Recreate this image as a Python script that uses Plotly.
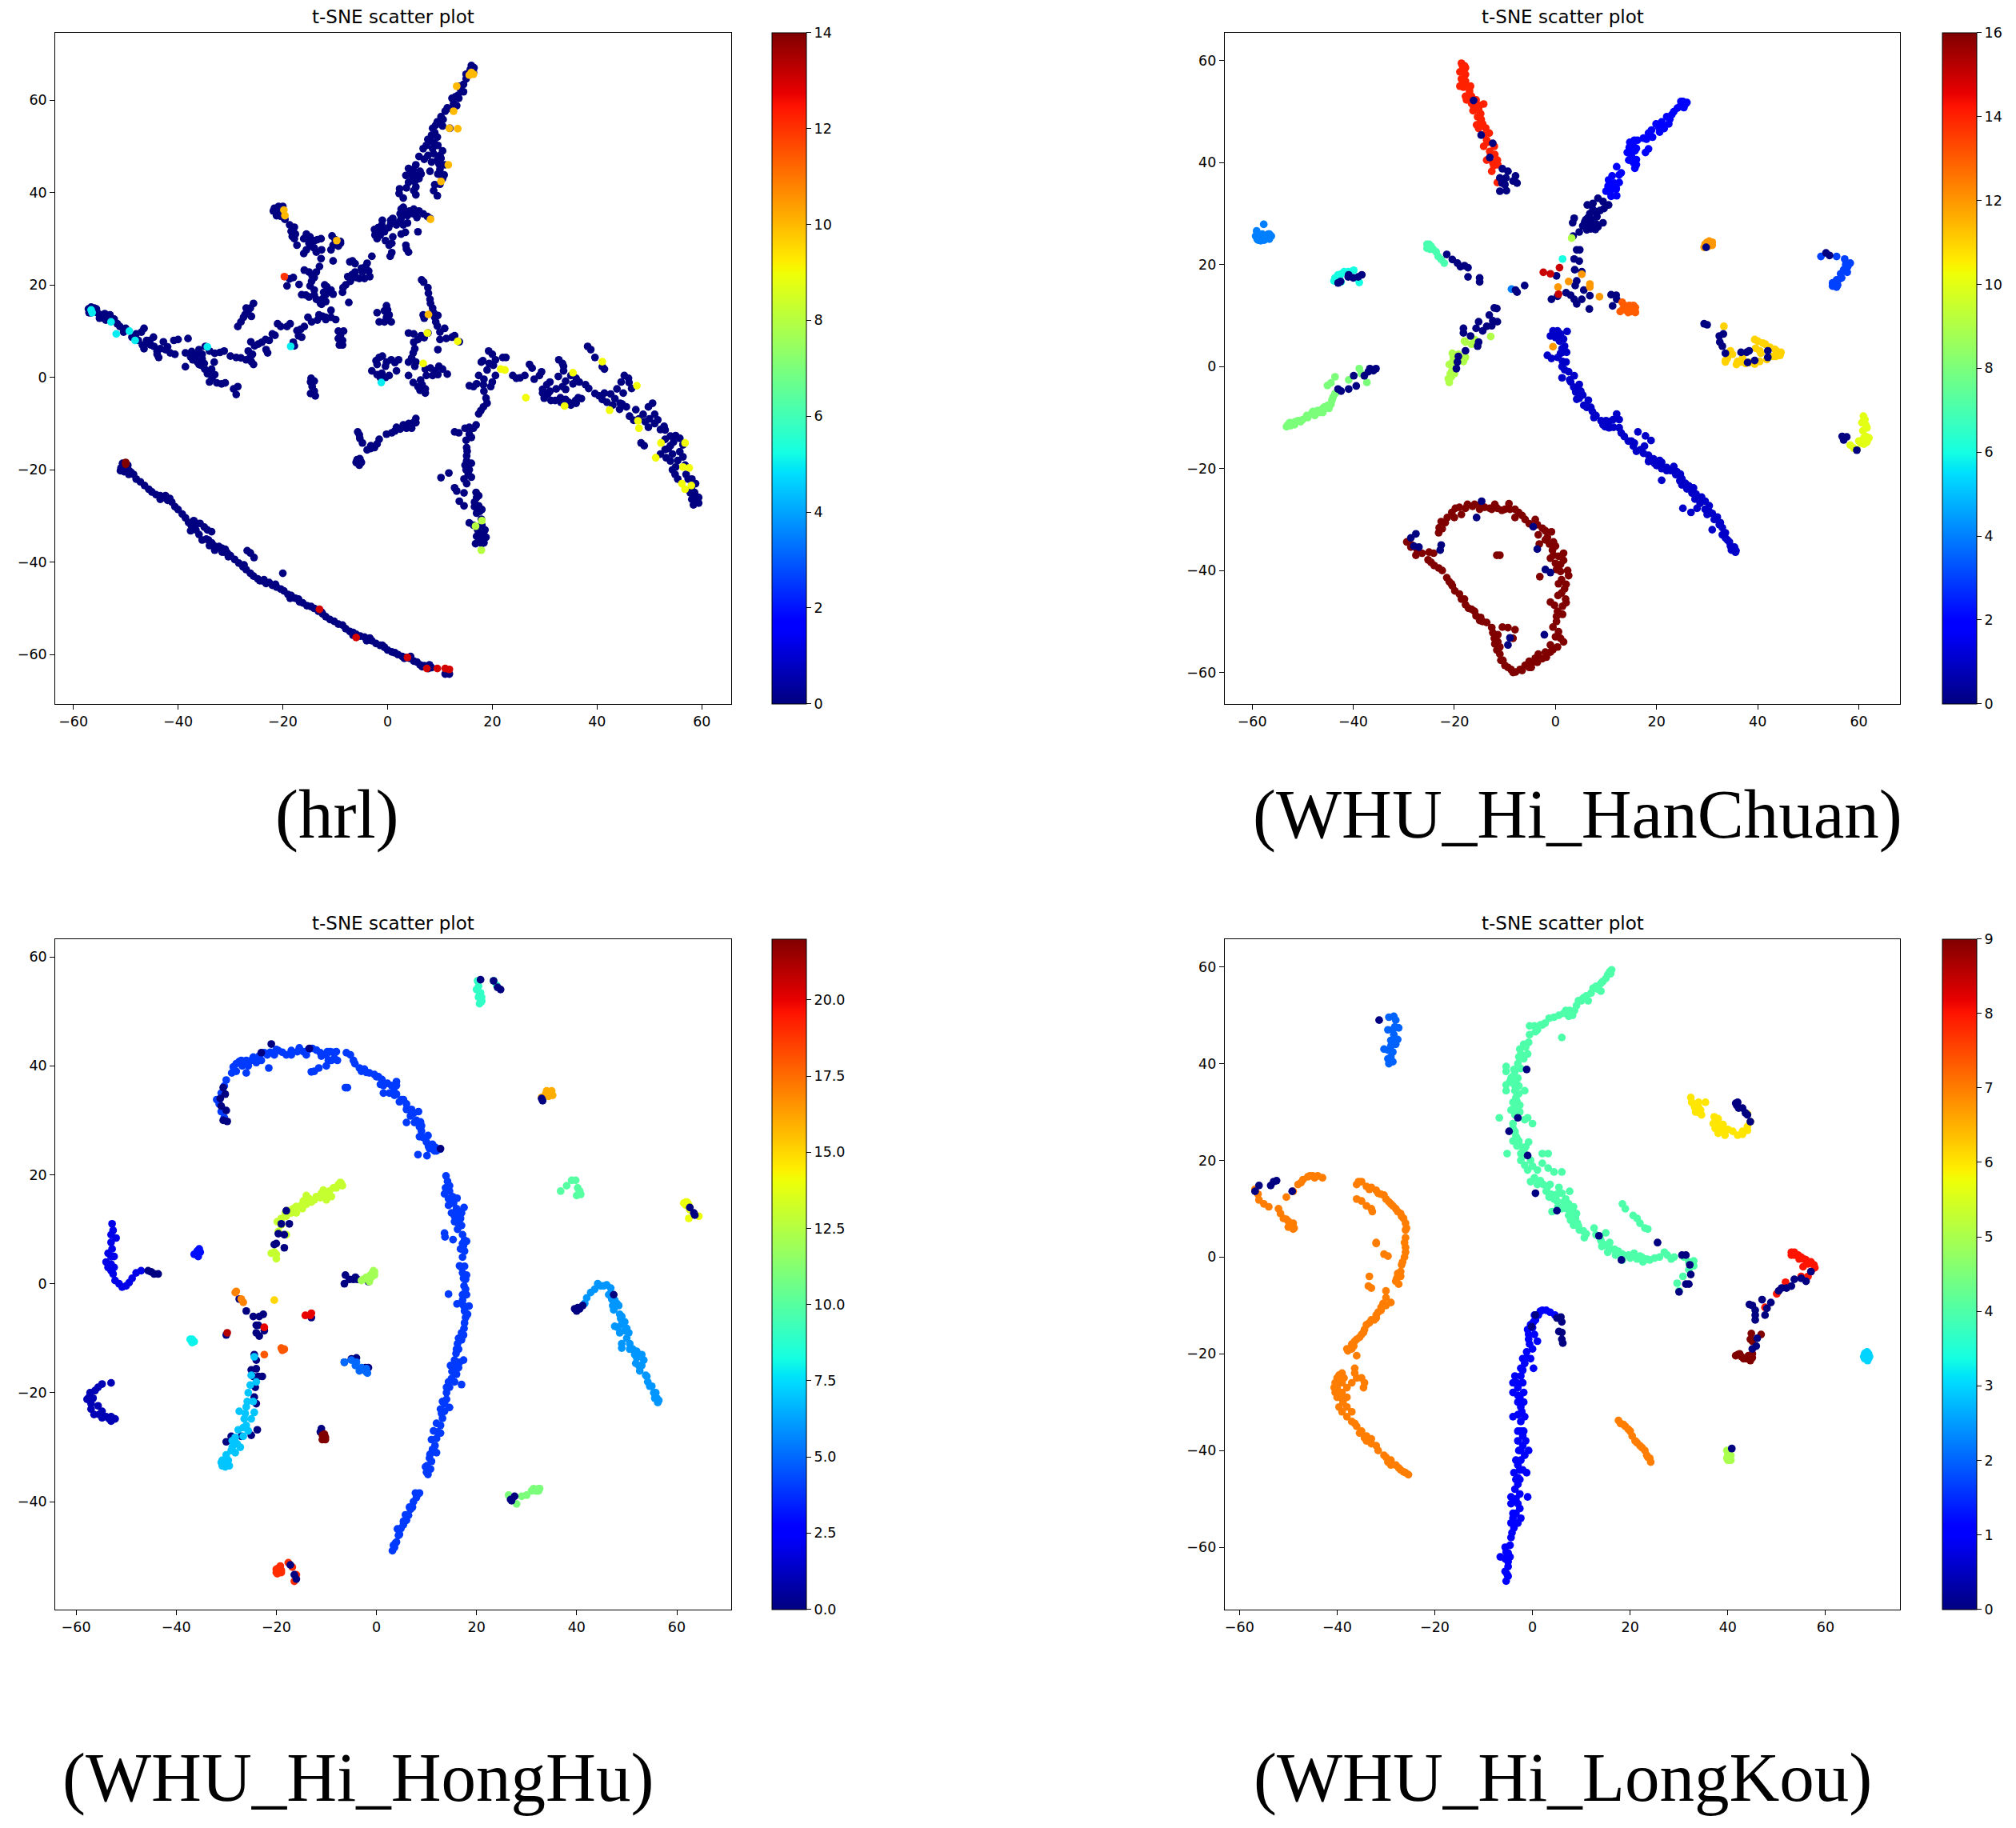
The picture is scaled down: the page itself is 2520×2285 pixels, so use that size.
import plotly.graph_objects as go

W, H = 2520, 2285

# ---------- hrl ----------
hrl_streak = [(-50.5,-19.5),(-50,-19),(-49.5,-20),(-49,-20.5),(-48.5,-21),(-48,-22),(-47.2,-22.6),(-46.4,-23.4),(-45.6,-24.2),(-45,-24.8),(-44.2,-25.4),(-43.4,-25.6),(-42.8,-26),(-42,-26.6),(-41.2,-27),(-41.6,-26.2),(-40.6,-28),(-40,-28.6),(-39.2,-29.6),(-38.6,-30.4),(-38,-31.4),(-37.5,-32),(-37,-31),(-36.6,-33),(-36,-34),(-37.6,-33.2),(-35.8,-31.6),(-35,-32.4),(-34.4,-33),(-33.6,-33.4),(-35.4,-35.2),(-34.6,-35),(-34,-36.4),(-33.6,-35.8),(-33,-37.4),(-32.2,-36.6),(-31.6,-37),(-31.2,-37.8),(-30.6,-38),(-30,-38.6),(-29.2,-39.4),(-28.4,-40.2),(-27.6,-41),(-27,-41.6),(-26.2,-42.4),(-25.6,-43),(-26.8,-37.5),(-26.2,-38),(-25.5,-39),(-24.8,-43.6),(-24,-44),(-23.2,-44.6),(-22.6,-44.4),(-22,-45),(-21.2,-45.4),(-20.4,-45.8),(-20,-42.4),(-19.8,-46.2),(-19,-47),(-18.4,-47.2),(-17.6,-47.8),(-17,-48),(-16.2,-48.8),(-15.4,-49.4),(-14.6,-49.6),(-14,-50),(-13.2,-50.6),(-12.4,-51.2),(-11.8,-51.8),(-11,-52.4),(-10.2,-52.8),(-9.4,-53.4),(-8.6,-53.6),(-8,-54.4),(-7.2,-55),(-6.6,-55.2),(-6,-55.6),(-5.2,-56),(-4.4,-56.2),(-3.8,-56.8),(-3,-57),(-2.2,-57.6),(-1.4,-58),(-0.6,-58.4),(0,-59),(0.8,-59.4),(1.4,-59.6),(2,-60),(2.8,-60.4),(3.4,-60.6),(4.2,-60.8),(5,-61.4),(5.6,-61.6),(6.2,-62.2),(7,-62.4),(7.6,-62.6),(8.4,-62.8),(11.2,-63.5),(11.5,-64),
              (-50.9,-19.6),(-51,-20.2),(-50.3,-20.4),(-49.6,-19),(-50.6,-18.6),(-49.4,-21),(-43.4,-26.4),(-42.4,-25.6),(-37,-32.8),(-36.4,-31.6),(-34.2,-35.2),(-33.2,-36.4),(-31.6,-37.8),(-31,-37.2),(-30.4,-38.8),(-27.4,-40.6),(-24.4,-44),(-23.6,-43.8),(-21.4,-44.8),(-18.6,-47.8),(-16.8,-48.6),(-12.6,-50.8),(-6.6,-55.8),(-4,-57),(-3.4,-56.4),(-1,-58),(3.2,-60.8),(4.4,-60.4),(6.6,-62.6),(7.8,-63),(8,-62.2),(11.8,-64.2),(11,-64.2)]
hrl_arm_up = [(16,67.5),(16.5,67),(15.8,66.6),(16.4,66),(15.4,65.6),(15,64.6),(14.5,63.4),(14,62),(13.7,63),(14.5,61.8),(13.4,61),(12.9,60.7),(12.3,60.4),(13.6,60.4),(13.2,58.8),(12.6,59.2),(11.4,58.3),(12,58.2),(11,57.6),(10.2,56.4),(9.5,55.3),(10.6,55.8),(8.6,53.9),(9.2,54.6),(10.5,54.4),(11.9,53.9),(9,53),(7.7,51.5),(8.4,52.4),(9.5,52),(6.8,49.5),(7.4,50.2),(8.6,49.5),(9.6,50.2),(10.5,49),(7.7,48),(8.8,48.4),(9.5,47),(10.2,47.4),(10.9,46),(9.8,46.2),(4.9,45),(5.4,46),(3.5,43.7),(4.4,44),(5.4,43.7),(6.2,44.6),(8.1,44.6),(4,42.2),(4.8,43),(5.4,41.2),(5.2,42.4),(10.5,43),(10.8,43.8),(9,41.7),(10,41.8),(2.3,40.8),(2.2,39.8),(5.4,39.5),(9.5,39.3),(8.8,40.4),(3,38.8),(2.6,36.4),(2.4,35.4),(3.5,35.4),(3,36.8),(4.2,36),(4.9,35.4),(5.6,34.6),(6.8,35.4),(7.6,34.8),(8.1,34.4),(2.6,34.4),(1.7,33),(3,33),(2.2,33.6),(3.8,33.4),(0.6,33.2),(-1.1,33),(-1.8,32.4),(-2.5,32),(-0.6,31.5),(0.2,32.4),(-1.4,30.8),(-2,30),(-2.4,30.8),(0.3,28.6),(0.8,29),(2.6,31),(5.8,31.5),(3.5,28.6),(3.6,27.8),(4,27.1),(0.5,26.2),(0.8,27),
              (9,50.6),(8.4,51),(7,47.2),(6,47.8),(10,48),(8.4,46.6),(6,43),(4,45.2),(3.6,41),(5,40.4),(6.4,44),(9.6,44),(10,45),(1,34.4),(3.8,35),(5,36.4),(6,36),(3.4,31.4),(1,30.4),(-0.4,29.6),(0.6,34),(-0.8,32),(-1,34),(-1.6,31),(15.6,66),(16.2,66.8),(15,65.6)]
hrl_mid_up = [(-21.4,35.8),(-21,36.4),(-20.4,36.2),(-21.2,35),(-20.5,34.9),(-20,35.4),(-19.8,34.6),(-18.7,33),(-17.8,32.5),(-18.4,31.6),(-18.2,30.5),(-17.6,31),(-17.3,28.6),(-17.8,30),(-15.5,31),(-15.4,30),(-16,30),(-14,29.6),(-14.8,30.4),(-12.7,30),(-13.4,29.8),(-10.4,28.6),(-10,29.8),(-9,29.4),(-9.4,28.4),(-10.8,27.6),(-15.5,27.6),(-14.6,28.4),(-13.6,27.1),(-14,28),(-12.7,25.7),(-12.6,27.6),(-10.4,25.2),(-6.7,25.2),(-7.2,25),(-6.2,24.6),(-3,26.2),(-3.9,24.7),(-4.2,24),(-4.8,22.8),(-3.6,23),(-3.4,21.8),(-4.4,21.4),(-6.2,22.8),(-6.8,22.2),(-7.6,21.8),(-8.5,19.4),(-8,20),(-7.1,20.8),(-18.7,21.3),(-18,21.6),(-15.9,23.2),(-15,22.8),(-13.6,22.8),(-14.4,22),(-14.5,20.8),(-14.8,19.8),(-14,18.9),(-14,17.8),(-16.4,17.9),(-15.6,17.8),(-15,17.4),(-11.8,17.9),(-12.4,17),(-10.8,18.9),(-11.4,18.4),(-11.8,16.4),(-13.6,16.9),(-12.8,16),(-7.4,16.2),(-19.2,19.8),(-16.9,20.1),
              (-21.8,36),(-21,35.6),(-20.8,37),(-20,37),(-21.6,36.6),(-20.4,35.4),(-19.6,34.2),(-9,29),(-10.6,30.6),(-15,29),(-16,26.8),(-13,24),(-14,21.6),(-12,20),(-11.6,19.6),(-10.4,18),(-12.2,18.4),(-12.6,15.8),(-8.6,18.4),(-6,21.6),(-5,23.6),(-5.4,21.4)]
hrl_mid_low = [(-10.8,14.5),(-11.8,13),(-13.1,13.5),(-12.4,13.2),(-11.8,12.5),(-9.9,12.5),(-10.8,13),(-14.5,12),(-13.4,12.4),(-15.9,11),(-15.2,13),(-16.6,10.4),(-17.3,10.1),(-16.4,8.7),(-17,9),(-18,7.6),(-17.8,6.8),(-21,11.6),(-20.4,11),(-19.2,11),(-18.6,11.6),(-21.5,9.1),(-22,9.4),(-23.3,8.2),(-22.6,8),(-24,7.6),(-24.7,7.2),(-22.9,5.3),(-23.2,6),(-26.1,7.7),(-25.4,6.8),(-26.6,5.7),(-25.8,5),(-27,3.8),(-26.2,4.4),(-28.9,4.3),(-28,4.2),(-25.6,2.8),(-26,3.4),(-9,9.1),(-9.4,8.4),(-8.6,8),(-9,7.7),(-9.2,7),(-8.6,7),(-9.4,10),(-8.4,10),(-25.6,16),(-26.2,15),(-26.6,14.5),(-27.2,13.6),(-26,13.2),(-27.5,13),(-28,12),(-28.6,11),(-27,15)]
hrl_left = [(-57.1,14.8),(-56.6,15.2),(-56,15),(-56.6,14),(-55.4,14),(-54.8,13.5),(-54,13.8),(-53,13.5),(-53.8,12.4),(-52.2,12.6),(-51.1,11),(-51.6,11.6),(-50,10.6),(-46.5,10.6),(-47,9.8),(-48.8,8.7),(-48,9.4),(-47.6,8),(-44.7,8.7),(-45.4,8),(-46.5,6.2),(-45.2,7),(-44.6,6.7),(-44,5.6),(-43.7,4.3),(-44,5),(-42.8,7.7),(-42.4,6),(-40,8.2),(-40.8,8),(-38.1,8.4),(-41.5,5.3),(-40.6,5),(-38.6,5.3),(-37.4,5.6),(-34.8,6.7),(-36,6),(-36.4,5),(-35.4,5),(-34,5.7),(-33,5.2),(-31.2,5.7),(-32,5.4),(-38.6,2.3),(-36.3,3.3),(-37.2,3.8),(-35.6,2.6),(-34.9,1.8),(-35.4,4),(-34.4,0.8),(-33.5,-0.1),(-34,-1),(-33,0.6),(-33.1,3.3),(-32.6,-1.2),(-31.7,-1.4),(-31,-1.2),(-29.4,-2.5),(-28.6,-2),(-28.9,-3.7),
            (-55.6,14.8),(-57,14),(-55,12.8),(-54.2,12.8),(-50.4,9.8),(-46,8),(-45.8,7.4),(-46.8,7),(-43.4,6.2),(-42,6.6),(-37.6,4.4),(-36.8,4),(-36,2.8),(-35,3),(-34.2,1),(-33.6,1.8),(-33.2,0.6),(-30,4.6)]
hrl_iso = [(-14.7,-1),(-14,-0.8),(-14.4,-2),(-14,-3),(-14.7,-3.5),(-13.8,-4),(-14.6,-0.2)]
hrl_centre = [(-0.2,15.5),(0,14.6),(-2,14),(-0.6,14.4),(0.3,13.5),(-0.2,13),(-1.6,12),(-0.6,12),(0.7,12),(-1.6,4.3),(-2.2,3.6),(-0.2,3.3),(-1,4.6),(-2,2.8),(0.7,3.8),(-0.4,2.4),(2.1,3.8),(1.4,3.2),(-3,1.4),(-1.1,0.9),(0.3,0.4),(-0.4,0),(-1.4,0),(1.7,1.4),(-2,0.6)]
hrl_vert = [(6.5,21.1),(6.9,20.6),(7.7,19.4),(7.8,18.2),(8.1,16.9),(8.2,16),(8.6,15),(8.8,14),(9,13),(9.2,12),(9.5,11.1),(8.4,13.8),(9.6,13.4),(6.8,13.5),(7,12.8),(4,9.6),(5,9.4),(5.8,8.2),(6.4,9),(5,7.6),(7.7,9.6),(7,8.6),(10.9,10.6),(10,9.8),(12.3,8.7),(11.2,8.4),(10,8.2),(12.8,9),(13.7,7.7),(9.6,6),(4.9,5.3),(5.2,6.2),(4,3.3),(4.6,4.2),(5.4,3.3),(5.2,2.4),(7.2,1.8),(8.2,2),(9.1,1.4),(9.8,2.4),(10.5,1.8),(8.6,0.4),(7.4,0.4),(11.4,0.7),(9.6,0.6),(4.9,-1.1),(6.3,-0.6),(7.2,-2.5),(5.8,-2),(6.6,-1.6),(4,0.4),(6.2,-2.8),(7.2,-3.4)]
hrl_lowmid = [(-5.7,-11.8),(-5.4,-12.4),(-5.3,-13.2),(-4.8,-14.2),(-2.5,-15.2),(-3.2,-15.4),(-3.9,-15.7),(-3.2,-14.8),(-0.2,-12.3),(-1.6,-13.4),(-2,-14.4),(0.8,-12),(1.7,-10.8),(1.4,-11.6),(2.4,-11.2),(3,-10.3),(3.6,-11),(4,-10),(4.9,-9.8),(4.6,-11),(5.4,-8.9),(5.4,-9.8),(-5.7,-18.6),(-5.3,-17.6),(-5,-18.4),(-5.8,-17.8),(-6,-18.4),(-5.4,-19)]
hrl_right = [(19.3,5.7),(20,5),(20.6,3.8),(22,4.3),(22.6,4.3),(18.2,3.6),(17.9,3.3),(19.4,3),(20.2,2.6),(19,1.6),(17.4,0.4),(18.4,-0.4),(18.3,-1.6),(15.6,-1.8),(16.4,-2),(17,-1.4),(19.7,-2),(20.6,0.4),(20,-1),(18.8,-4.5),(18.4,-3),(19,-5.6),(18.3,-6.4),(17.4,-7.9),(17.8,-7.2),(23.9,0.4),(24.6,-0.2),(25.3,-0.1),(26.2,0.4),(27.1,2.8),(27.6,2),(28,-0.4),(29,0.4),(29.4,1.2),(30.4,-1.6),(29.6,-2.6),(29.9,-4.5),(30.6,-3.6),(31.2,-5),(32.7,3.8),(33.4,3),(33.6,1.4),(32.6,0.2),(34,-0.8),(35,0.4),(35.4,-1.4),(32.2,-2.5),(33.4,-2),(31,-1),(33.1,-5.4),(34,-4.8),(35.9,-5),(36.4,-4.4),(35,-6),(38.2,6.7),(38.8,6),(39.6,4.3),(41,2.3),(41.4,1.8),(37.8,-1.6),(38.4,-2.4),(39.6,-3.5),(40.4,-4),(41.9,-5.4),(41,-4.8),(43,-6),(44.3,-6.9),(45.2,0.4),(46,-0.2),(43.8,-2.5),(44.6,-1),(46.1,-1.1),(46.6,-2.4),(45.6,-6.4),(44.8,-5.8),(47,-9.3),(46.2,-8.4),(48,-9),(48.4,-14.2),(49,-14.8),(49.8,-6.4),(50.6,-5.6),(49.8,-10.8),(49.2,-9.6),(51,-10),(52.1,-11.3),(52.8,-10.6),(54,-12.7),(53,-13.4),(55.8,-13.2),(55,-12.6),(52.1,-16.6),(53,-15.6),(54,-14.8),(54,-18.1),(53.2,-17.4),(54.9,-21),(55,-19.4),(56.8,-19),(55.8,-16.1),(56.4,-17.2),(58.1,-22),(57,-21),(58.6,-24.9),(58,-24),(59.1,-26.8),(58.1,-26.4),(58.6,-27),(59,-25.8),
             (29.6,-3.4),(31,-3),(34,-2.6),(36,-0.2),(36.6,-1),(33,-4.4),(34.6,-5.4),(32,-5),(33.6,2.4),(37,-4.6),(36,-5.6),(41.4,-3.4),(42.6,-3.6),(43.4,-4.6),(44.4,-5.6),(45,-3.4),(47.4,-7),(48.8,-8),(50,-9),(51,-8),(51.6,-9.2),(53,-11.4),(54.6,-14),(53.6,-15.4),(54.4,-16.6),(55.4,-18),(56.4,-14.6),(54.4,-20),(55.4,-22),(57.4,-22),(58.8,-23),(57.8,-25),(59.4,-26),(58.4,-27.6),(59.4,-27.2)]
hrl_south = [(16.9,-10.3),(16.4,-11),(15.6,-10.8),(15.6,-12.3),(16,-13),(12.8,-11.8),(13.6,-12),(15.1,-15.2),(15,-13.6),(15.1,-17),(15.1,-18.1),(14.8,-19),(15.6,-20),(15,-20),(16,-18.6),(15.1,-23),(14.6,-22),(12.8,-23.9),(13.2,-24.6),(13.7,-26.8),(14.6,-25),(16.9,-24.9),(17,-26),(17.4,-27.8),(16.6,-27),(17.9,-30.7),(17.6,-29),(15.6,-31.5),(16.4,-32),(18.3,-33.7),(17.2,-33),(17.4,-35.6),(18.8,-34.6),(18,-36),(17,-34.4),(10.2,-21.7),(11.7,-20.7),(14.6,-27.8),
             (14.8,-11),(15.2,-16),(15.4,-21),(16,-21.6),(17.4,-25.6),(16.6,-28),(17,-29.4),(18,-28.6),(18,-32),(18.6,-33),(17.4,-34.4),(16.8,-36),(17.8,-35),(18.4,-35.8)]
hrl_c9 = [(21.6,1.8),(22.4,1.6),(6.8,3),(7.6,9.6),(13.4,7.8),(26.4,-4.4),(33.8,-6.2),(47.6,-1.8),(42.4,-7.1),(47.8,-9.4),(48,-11),(52.2,-14.2),(56.8,-14.2),(51.2,-17.4),(56.4,-19.4),(57.6,-19.6),(56.2,-23),(56.8,-24.2),(58,-23.4),(35.4,1),(41,3.4)]
hrl_c8 = [(17.9,-37.4),(16.8,-32.2),(18,-31)]
hrl_c5 = [(-56.6,14.6),(-56.4,14),(-52.8,12),(-49.3,10),(-48.2,8),(-51.8,9.4),(-18.5,6.7),(-1.2,-1.1),(-34.4,6.6)]
hrl_c10 = [(16,66),(15.6,65.4),(16.4,65.6),(13.2,63),(12.6,57.6),(11.8,53.9),(13.4,53.8),(11.6,46),(10.2,42.4),(8.2,34.2),(-9.7,29.6),(-19.6,35),(-19.8,36.2),(7.8,13.6)]
hrl_c12 = [(-19.7,21.8)]
hrl_c13 = [(-13,-50.2),(-6,-56.3),(3.8,-60.6),(7.5,-63),(9.5,-63),(11.8,-63.2),(11,-63)]
hrl_c14 = [(-50,-18.8),(-50,-18.4)]
hrl_groups = [(0,hrl_streak),(0,hrl_arm_up),(0,hrl_mid_up),(0,hrl_mid_low),(0,hrl_left),(0,hrl_iso),(0,hrl_centre),(0,hrl_vert),(0,hrl_lowmid),(0,hrl_right),(0,hrl_south),
              (9,hrl_c9),(8,hrl_c8),(5,hrl_c5),(10,hrl_c10),(12,hrl_c12),(13,hrl_c13),(14,hrl_c14)]

# ---------- WHU_Hi_HanChuan ----------
han_c14 = [(-18.6,59.5),(-18.2,58.4),(-18.9,57.8),(-17.8,57.3),(-18.6,56.4),(-17.8,56),(-18.9,55),(-18.2,54.8),(-16.8,55),(-17.6,52.3),(-17.8,53),(-16.6,53),(-15.7,52.3),(-16.2,51),(-14.2,51.5),(-15,51.2),(-16.3,50.2),(-14.8,49.6),(-15.4,49),(-14.7,48.5),(-15.2,46.7),(-14.4,47.6),(-13.8,46.8),(-13.1,45.8),(-14.2,45.4),(-14.2,43.2),(-13.4,44),(-12.1,43.2),(-13.6,40.5),(-12.8,41.6),(-11.5,40.5),(-12.6,38.3),(-12.2,39.4),(-11.5,36.1),
           (-18.4,59),(-18,59),(-17.8,58.6),(-18,55.6),(-17,54),(-16.6,51.6),(-15.2,50.4),(-14.8,48),(-15.6,47.4),(-13.6,44.4),(-13,42.2),(-12.4,40),(-12,41.6),(-11.4,39.6)]
han_c0a = [(-16.2,52.2),(-14.7,45.4),(-12.4,43.8),(-13,41),(-10.5,38.8),(-9.4,38.3),(-11,37),(-9.8,37),(-7.9,37.4),(-7.6,36),(-10,35.7),(-8.4,36.4),(-11,34.4),(-9.7,34.5),(-10.6,36)]
han_c2 = [(25.7,51.5),(25.2,52),(24.6,51),(24.1,50.7),(23.4,50),(22.6,48.5),(22,49),(21,48),(19.9,47.6),(21.5,46.7),(20.6,46),(18.4,45.8),(19,46.4),(17.4,44.8),(14.7,44),(15.6,44.4),(14.6,43),(15.7,42.3),(15,41.4),(18.4,42.7),(16,40.6),(14.5,40.5),(15.7,38.9),(12.1,39.2),(12.6,37.6),(10.5,36.6),(11.2,37.4),(12.6,36.1),(11.4,35.4),(10,34.4),(10.8,34.2),(12.1,33.5),(12,34.8),
          (25,51),(25.4,50.8),(26,51.8),(24.8,52),(23,49.4),(22.4,47.6),(21.2,47.2),(20.4,47),(19.2,45),(18,44.6),(16.2,44.4),(15.4,43.2),(14.8,42),(16,42.8),(14.2,42),(17.8,42),(15.4,40),(16,39.6),(13,38),(11.6,36),(12,35),(10.4,35.4),(11,33.4)]
han_c0b = [(8.4,33),(9.4,32.4),(6.3,31.7),(7.4,32),(10.5,31.7),(9.6,31),(7.9,30.4),(6.8,30),(8.2,29.4),(3.7,29.1),(3.4,28.2),(6.8,27.8),(6,28.8),(7,29),(9.4,28.2),(7.9,26.9),(7,27),(4.7,26.4),(3.5,25.6),(5.8,28.4),(5.4,27.6),(8.4,27.4),(4.8,22.9),(4.2,22.9),(3.7,21.1),(4.7,20.7),(3.8,19),(5.2,18.6),(3.9,15.9),(4.2,16.8),(5.6,15),(0.2,17.8),(-0.8,13.2),(2.1,14.5),(3.7,13.2),(5.2,13.2),(6.8,13.9),(4.2,12.3),(3,14),(6.7,11.3),(11,14.1),(12.1,13.2),(11.3,11.9),(12,14),(0.4,13.8),(7.2,28.2),(6.4,29.2),(8,28),(6.2,26.8),(7.4,30.8),(8.8,30.6)]
han_c12b = [(5.2,18.1),(6.8,15.6),(6.8,16.2),(2.6,16.7),(0.5,15.6),(8.7,13.7),(-0.5,3.9)]
han_c13 = [(13.9,11.9),(14.6,12),(15.2,11.5),(15.7,11),(15,10.8),(14,11),(12.8,10.8),(13.2,12.6),(14.4,10.6),(15.8,11.6),(15.4,12),(14.6,11.2),(15.8,10.6),(13.4,11.4)]
han_c15 = [(-2.4,18.5),(-1,18.2),(0.8,19.4),(0.6,14.2)]
han_c5b = [(1.4,21.1)]
han_c9b = [(3.2,25.2)]
han_c7 = [(-25,23.3),(-25.4,24),(-24.8,23),(-24.2,23),(-23.6,22.5),(-23.2,21.6),(-22.6,21),(-22,20.3),(-25,24),(-24.6,23.6),(-25.4,23.2)]
han_c0c = [(-21.5,22),(-20.4,21),(-19.4,20.3),(-18.8,19.6),(-18,19.8),(-17.3,19.4),(-17.3,17.6),(-15,17.4),(-15,16.6)]
han_c4 = [(-59.1,26.6),(-57.7,27.9),(-59.3,25.6),(-59,25),(-58.3,24.7),(-57.6,24.8),(-57,25.2),(-56.6,25),(-56.2,25.6),(-56.6,26),(-58,26),(-8.7,15.2),(-59,26),(-58.4,25.2),(-57.6,25.6),(-56.8,26),(-58.8,24.8)]
han_c0d = [(-7.9,15),(-7.6,14.6),(-6.1,15.9)]
han_c5 = [(-43.6,17.4),(-43.4,16.8),(-43,18),(-42.5,18.1),(-42.4,16.6),(-41.8,18.6),(-41,18.6),(-39.9,18.9),(-38.8,16.5),(-39.4,17.4),(-43.8,16.8),(-43,17),(-42.6,17.8)]
han_c0e = [(-42.5,16.7),(-40.9,18),(-40,17.4),(-41,17.6),(-38.3,18),(-39,17.6),(-43,16.4)]
han_c8 = [(-53,-11.5),(-52.6,-11),(-52,-11),(-51.4,-10.8),(-50.9,-10.6),(-50,-10.4),(-49.2,-9.6),(-48.3,-9.3),(-47.6,-9.6),(-47,-8.6),(-45.7,-7.9),(-46,-9),(-44.8,-8.2),(-44.2,-6.6),(-43.6,-5.3),(-45.1,-3.7),(-44.4,-3.2),(-43.6,-2),(-40.9,-2.6),(-38.8,-0.4),(-37.3,-3.1),(-38.4,-1.4),
          (-53.2,-11.8),(-52.4,-11.6),(-51.6,-11.4),(-50.4,-10.8),(-49,-10),(-48,-8.8),(-46.6,-9),(-46,-8.2),(-45,-7.6),(-44.4,-7.4),(-44,-6)]
han_c0f = [(-43,-4.4),(-42.4,-4.8),(-40.9,-4.4),(-39.9,-1.8),(-39.4,-3.8),(-37.8,-1.8),(-36.7,-0.4),(-36,-0.8),(-35.5,-0.4),(-37,-1)]
han_c9 = [(-21,-3.1),(-21.2,-2.4),(-20.6,-2),(-20.5,-0.9),(-21,0.4),(-20.2,1.8),(-20.4,2.6),(-19.2,2.4),(-18.2,1),(-17.8,1.8),(-17.8,4.8),(-18,5),(-16,5.3),(-16.6,4.4),(-12.8,5.9),(-20.8,-1.4),(-20.4,0.8),(-20,-1.4)]
han_c0g = [(-19.4,0.9),(-19.6,-0.4),(-17.8,3.1),(-19.2,2),(-15.2,4.8),(-15.4,4),(-18.2,7.5),(-18.2,6.6),(-15.7,7.5),(-13.6,7.9),(-14.4,7),(-11.5,8.8),(-12.6,8),(-15.2,8.8),(-13.1,10.1),(-12.4,9),(-12.1,11.5),(-11.6,11.4),(-16.8,6)]
han_c3 = [(52.5,21.6),(55.6,21.6),(57.2,21.1),(57.4,20),(58.3,20.3),(57,19),(57.7,18.5),(56.6,17.4),(56.2,17.2),(55.6,16.6),(55.1,15.9),(54.8,16.4),(55.6,15.6),(55,16.4),(55.6,17),(55.8,16),(54.8,15.8),(57.8,19.6),(56.4,18.2)]
han_c0h = [(53.5,22.3),(54.2,21.8),(29.4,8.4),(30,8.2),(29.8,23.4),(32.5,4.8),(32.4,6),(33.2,6.4),(33.6,2.6),(36.7,2.8),(37.8,2.8),(38.3,3.1),(42,3.1),(42,1.8),(38,0.8),(39.4,1.2),(33,4),(56.7,-13.7),(57.6,-13.8),(57,-14.4),(59.6,-16.4)]
han_c12 = [(29.9,23.8),(30.7,24.4),(30.2,23.6),(31,23.8),(30.4,24.6),(29.4,23.4),(30.4,24),(30,24.4),(31,24.4),(29.6,24)]
han_c11 = [(33.3,7.9),(33.6,0.9),(33.6,1.2),(34.6,3.1),(36,1),(36.7,0.9),(35.8,0.4),(37.6,0.6),(39.4,0.5),(40.4,1),(41.8,1.4),(39.4,5.3),(40,5),(41,4.6),(41.5,4.4),(42.4,3.8),(43.4,3.4),(44.1,2.6),(44.4,2.2),(43,2),(39.6,3.6),(40.4,3.1),(40.6,2.6),(34,1.6),(35,2.4),(37,1.6),(38.4,0.8),(44.6,2.8),(43.8,3),(43.6,2)]
han_c10 = [(60.9,-9.7),(61.2,-10.4),(60.6,-11),(61.4,-11.5),(60.8,-12.6),(61.4,-13.7),(62,-14),(60.4,-15),(61,-15.2),(58.3,-15.4),(59,-16),(59.6,-16.3),(60,-14.6),(61,-10.6),(61.6,-12),(61,-14),(60.8,-14.4),(61.6,-14.8)]
han_c1 = [(-0.5,7),(0,5.7),(2.3,6.9),(-1,6),(0.8,5),(1.3,3.5),(1.4,2.8),(-1.6,2.2),(-0.8,1.6),(0.5,1.8),(2.1,0.9),(1.3,0),(1.8,-0.6),(1.3,-2.2),(3.7,-1.8),(2.8,-2.6),(4.7,-3.5),(3.6,-4),(4.7,-6.2),(4,-5),(5.4,-5.6),(6.5,-6.6),(6.2,-8),(7.3,-8.8),(8,-9.6),(10,-10.6),(9.4,-11.4),(10.6,-12),(12.1,-9.3),(12.6,-10.4),(11.5,-11.9),(13.6,-13.7),(14.4,-14.6),(16.3,-12.8),(17.8,-13.6),(18.9,-14.5),(16.8,-16.3),(17.6,-15.6),(15.6,-15),(19.4,-18.1),(18.4,-17.4),(20.6,-18.4),(22,-19.8),(21,-18.8),(21,-22.3),(23.4,-19.6),(24.7,-21.1),(24,-20.6),(25.7,-22.9),(25,-22),(27.3,-23.8),(26.4,-23.4),(28.9,-25.6),(27.8,-25),(29.6,-26.4),(25.2,-27.8),(26.8,-28.6),(28,-27.8),(30.4,-27.3),(30.6,-28.6),(32,-29.5),(31.4,-30),(31,-32),(32.4,-31),(33.6,-32.6),(33,-31.6),(34,-34),(34.6,-35.2),(35,-35.6),(35.7,-36.1),(35.2,-36),
          (1,6.4),(0.4,7),(1.6,5.4),(1.8,4),(1,2.6),(2.2,2.8),(1.4,1),(2.6,-1),(3,-3),(4.2,-4.6),(5,-4.8),(4.2,-6.4),(5.6,-7.6),(7,-8),(7.6,-10),(9,-10.6),(10.6,-10.8),(9.8,-11.8),(11.4,-10.4),(12.6,-12),(13,-13),(15,-14.6),(15.4,-15.6),(16,-16.6),(17.4,-17),(18.4,-18.6),(19.6,-19),(20,-19.4),(21,-20),(22,-20.4),(22.8,-20.4),(23.8,-21.2),(24.6,-22.4),(25,-23.2),(26,-24),(27,-24.8),(27.6,-26),(28.6,-26.8),(29.6,-28),(30,-29),(31,-28.8),(32.6,-30.6),(33,-33),(33.6,-33.6),(34.4,-34.4),(35.4,-35.4),(35.6,-36.4),(34.8,-36)]
han_c16 = [(-29.4,-34.4),(-28.4,-35),(-27.3,-36.1),(-27.6,-37),(-25.2,-37.9),(-24.6,-38.4),(-23.1,-39.5),(-22.4,-40),(-21.5,-41.4),(-21,-42.2),(-20.4,-43),(-19.9,-44),(-19,-44.6),(-18.6,-45.6),(-17.8,-46.7),(-17.2,-47.4),(-16.6,-47.6),(-15.7,-48.9),(-14.8,-49.2),(-13.6,-50.2),(-12.6,-51.2),(-12.1,-53.3),(-12,-54.4),(-11.6,-55.6),(-11,-56.4),(-10.8,-57.6),(-10,-58.6),(-8.8,-59.4),(-7.9,-59.9),(-6.6,-59.6),(-5.2,-59),(-4.6,-58),(-3.6,-58),(-2.6,-57.3),(-3.4,-56.4),(-2,-56),(-0.5,-55.5),(-1,-54.6),(1,-53.3),(0,-53),(-0.5,-51.1),(0.2,-50),(1,-48.5),(0.4,-48),(2.1,-46.3),(1.4,-47),(0.5,-44.9),(1.2,-44.4),(2.1,-42.7),(1.2,-41.8),(2.6,-41),(1,-40.2),(1,-38.8),(0,-38.6),(1.6,-36.6),(0.6,-37.2),(0,-35.2),(-0.6,-36),(-1.6,-33.5),(-0.8,-32.4),(-2.6,-31.7),(-2,-34),(-3.4,-33),(-5.2,-30.8),(-4.4,-31.4),(-6,-30),(-7.3,-28.6),(-8,-29.6),(-9.2,-26.9),(-9,-28),(-10.6,-28.2),(-11.5,-27.8),(-13,-27.8),(-14.7,-26.9),(-15,-28),(-16.4,-27.4),(-17.8,-27.8),(-19,-27.6),(-18.6,-29),(-20.5,-28.6),(-21.4,-29.6),(-22.6,-30.4),(-23,-31.6),(-23.1,-32.6),(-24.1,-36.6),(-25,-36.4),(-11,-37),(-11.6,-37),(-3.1,-41.2),(-10.5,-51.1),(-9.4,-51.2),(-8.4,-53.3),(-8,-51.6),(-11.4,-52.6),(-1,-46.2),
           (-28.6,-35.4),(-26.4,-36.6),(-24,-39),(-20.6,-42.6),(-18,-45.6),(-15,-49.8),(-16,-48),(-14.4,-50),(-12.4,-52.2),(-11.4,-54),(-11,-55),(-10.4,-57.6),(-9.4,-59),(-8.4,-60),(-7,-59.4),(-6,-58.6),(-5.2,-57.8),(-4,-57.2),(-4.8,-59),(-1.8,-57),(-1,-56),(0.4,-55),(1.6,-54),(0.6,-52),(0.2,-49),(1.4,-48.6),(-0.2,-46.8),(2,-45.6),(1.8,-43.6),(0.6,-42.6),(2.4,-40),(0.2,-39.8),(1.6,-38),(-0.4,-34.4),(-1.2,-34.8),(-2,-32.2),(-3.6,-31),(-4,-30),(-6.6,-29.2),(-8,-28),(-10,-28),(-12,-27),(-12.6,-28),(-14,-27.6),(-16,-27),(-17.4,-27),(-19.8,-27.8),(-20,-29.6),(-21.8,-30.6),(-22.4,-31.8),(-3.2,-34.8),(-1,-37.6),(-0.4,-37)]
han_c0i = [(-28.6,-33.6),(-27.6,-32.8),(-28,-35.2),(-27,-35.4),(-22.6,-35),(-22.8,-36),(-15.6,-29.6),(-14.6,-26.4),(-4.4,-31.4),(-3.6,-35.8),(-2,-39.8),(-1,-40.4),(-9,-53.2),(-9.4,-54.6),(-2.2,-52.6)]
han_groups = [(14,han_c14),(0,han_c0a),(2,han_c2),(0,han_c0b),(12,han_c12b),(13,han_c13),(15,han_c15),(6,han_c5b),(9,han_c9b),(7,han_c7),(0,han_c0c),(4,han_c4),(0,han_c0d),(6,han_c5),(0,han_c0e),(8,han_c8),(0,han_c0f),(9,han_c9),(0,han_c0g),(3,han_c3),(12,han_c12),(11,han_c11),(10,han_c10),(0,han_c0h),(1,han_c1),(16,han_c16),(0,han_c0i)]

# ---------- WHU_Hi_HongHu ----------
hong_c4 = [(-30.4,30.5),(-31,31.6),(-31.9,33.8),(-31,35),(-30.4,36.3),(-30,37.4),(-28.9,38.7),(-28.6,39.8),(-28,40.4),(-27.4,40.8),(-26.8,40),(-26,41),(-25.6,40),(-24.6,41.6),(-24,40.6),(-23.4,41.8),(-22.4,42.4),(-21.2,42.5),(-20.4,42),(-19.6,42.8),(-18.8,42.5),(-18,42),(-17,42.8),(-15.4,43.3),(-14.6,42.6),(-13.6,43),(-12,42.9),(-11.2,42.4),(-10,42),(-9.2,42.6),(-8.6,42.5),(-8.4,41.4),(-9.6,41),(-10,40),(-5.2,42),(-6,42.4),(-4.6,41),(-4.3,40.4),(-3.4,39.6),(-2.4,39.4),(-1.4,38.7),(-0.4,38.4),(0.4,38),(1.1,37.5),(1.4,36.4),(2.2,36.8),(3.5,35.9),(2.6,35),(4,34.8),(5.4,33.8),(4.6,33.4),(6,33),(7.4,31.3),(8.4,31.6),(6.8,30.8),(8.8,29.7),(7.6,29.6),(6,29.6),(8.6,28.8),(9,28),(10.3,27.2),(10,26),(11.2,25.6),(10.6,24.8),(12.7,24.7),(11.6,24.4),(8.3,23.7),(10.1,23.5),(-6.2,36),(-5.8,36),(-13,38.9),(-11.5,39.6),(-12.4,39),(-21.5,39.6),(-26,38.7),(4,37.1),(4,36.4),(1.4,35),
           (13.9,19.8),(14.2,18.8),(13.6,16.5),(13.8,17.6),(14.6,17),(15.2,16),(16.1,15.7),(15,14.8),(17.5,14),(16.6,13.2),(15.6,12.4),(15.6,11.4),(16.8,12),(17,10.7),(16.2,10),(13.6,9.3),(13.7,8.6),(15.3,8.1),(17.2,9),(18,7.8),(17.4,7),(17.2,4.9),(17.6,6),(16.6,3.3),(17.6,3.2),(18,1.6),(17.2,2),(17.5,-0.4),(17.8,0.8),(14.4,-1.9),(16.1,-3.7),(17.2,-2),(18.5,-4.1),(17.4,-4),(17.8,-6.2),(17.6,-7.2),(17.5,-8.2),(17.4,-9.4),(17,-10.3),(16.2,-11),(15.9,-12.8),(16.4,-12),(16.6,-14.4),(17.4,-14),(15.4,-15),(15.1,-16.1),(16,-16.6),(15.6,-18),(17,-18.5),(14.6,-19),(14,-20),(13.2,-21.6),(14,-21.2),(14.6,-22.7),(13.6,-23.4),(13.2,-24.7),(12.8,-26),(12.2,-27.2),(12,-28.4),(11.7,-29.7),(12,-31),(10.7,-31.3),(11,-32.6),(10.1,-33.4),(10.8,-34),(10.3,-35),(8.3,-38.6),(8,-39.2),(7.4,-40),(7.2,-41),(6.4,-42.5),(6,-43.4),(4.9,-44.9),(5.4,-44.2),(4,-47.4),(4.4,-46.2),(3.2,-49),(3.4,-48),
           (-30.8,32),(-31.4,33),(-28,39),(-27,41),(-25,41),(-23,41),(-21.8,42),(-20,43),(-17,42),(-15.8,42.6),(-14,42),(-12.8,43.2),(-11,41.8),(-9.8,42.6),(-9,41),(-8,42.6),(-7.8,41),(-3,39),(-2,38.8),(0,38),(0.8,36.6),(3,36.4),(3.6,34.6),(5,33.8),(6,32),(7,32),(8,30),(9,29),(8.6,27),(9.4,26.8),(10.4,25.2),(11.8,25),(12,24.4),(14.6,18),(14.4,15.6),(15.4,14.8),(14.4,14.4),(16,13.8),(15,13),(16.4,11),(16,12.8),(17,13),(17.6,8),(16.8,6.4),(17.2,7.4),(17,3),(17.4,1),(17.8,-1),(18,-2),(17.2,-3),(17.6,-5),(18.2,-5.6),(17,-9),(16.4,-10),(16,-12),(15.6,-14),(14.8,-15),(16.4,-15.4),(15,-17.4),(15.8,-16),(14.4,-18),(14,-19),(13.6,-22),(12.8,-23),(13,-23.8),(12,-25.6),(11.4,-27),(12.8,-27.4),(11,-28.6),(11.2,-30.4),(10.6,-32),(10,-34.6),(9.8,-33.6),(8.6,-38.4),(7.8,-38.4),(6.8,-41.4),(6.6,-41),(5.8,-42.4),(5.4,-43.6),(4.6,-46),(4.2,-45),(3.6,-48.4),(3.8,-47.6)]
hong_c0a = [(-30.6,36),(-31.2,34),(-30.2,34.8),(-31,32.6),(-30,31.8),(-29.8,29.8),(-30.6,30),(-21,44),(-23,42.4),(-13.4,43.2),(12.8,24.8),(-24,-7.6),(-26,-5),(-24.6,-6),(-23.4,-6),(-22.6,-5.6),(-23.6,-7.6),(-24,-9),(-23.4,-9.6),(-22.4,-8.6),(-27.4,-2.8),(-24.4,-13),(-24,-14),(-25,-15.8),(-24,-15.6),(-23.6,-17),(-24.6,-17),(-22.8,-17),(-24.2,-19),(-24.4,-20.8),(-24,-22),(-23.8,-26.8),(-25,-27.8),(-27,-28),(-29,-28),(-30,-29)]
hong_c2 = [(-52.8,11),(-52.6,9.8),(-52,8.4),(-53,7.6),(-52.8,6.4),(-53.6,5.6),(-52.4,5),(-54,4),(-53,3.6),(-52.4,3),(-52.6,1.8),(-52.2,0.6),(-51.4,0),(-50.8,-0.6),(-50,-0.4),(-49.4,0.2),(-48.8,1),(-48,2),(-47,2.4),(-53,9),(-53,5),(-53.6,3),(-53,2.4)]
hong_c0b = [(-45.6,2.4),(-45,2.2),(-44.4,1.8),(-43.6,1.8)]
hong_c3 = [(-36.4,5.4),(-35.8,6),(-35.4,6.4),(-35.2,5.8),(-35.6,5)]
hong_c1 = [(-53,-18.2),(-54.8,-18.4),(-55.6,-19),(-56.2,-19.6),(-57.2,-20),(-57.8,-21.2),(-57,-22),(-57,-23),(-56.4,-24),(-55.4,-24),(-55.6,-22.4),(-54.8,-24.6),(-54,-24.4),(-53.4,-24.8),(-52.8,-24.6),(-52.2,-24.8),(-53,-25.2),(-57.4,-20.8),(-56.6,-21),(-54.8,-23.4),(-53,-24.4)]
hong_c13 = [(-7,18.4),(-7.6,18.2),(-8.6,17.6),(-9.4,17),(-10,16.6),(-10.6,17.2),(-11.2,15.8),(-12,16),(-13,15),(-14,16.2),(-14.6,15.2),(-15,14.4),(-16,14.2),(-16.6,13.8),(-17.4,13.4),(-18.2,13),(-19,12),(-19.8,11.4),(-19,10.8),(-18,9),(-19.6,9.6),(-20.4,5.8),(-21,5.6),(-20,4.6),(-20,5.4),
            (-7.2,18.6),(-6.8,18),(-8,17.6),(-9,16),(-10,15.4),(-11,16.6),(-12.4,15.4),(-13.4,15.6),(-14,14.6),(-16,13),(-14.8,13.8),(-18,12.4),(-17,13)]
hong_c0c = [(-18,13.4),(-19,11),(-17.4,11),(-19.6,9.2),(-18.4,9),(-20,7.4),(-20.4,7.2),(-18.4,6.6),(-6.2,1.6),(-6.4,0),(-5.4,0.8),(-4.6,0.8),(-3.8,0.8),(-1.6,0.4),(-4.2,1.2)]
hong_c12 = [(-0.8,2),(-1.2,1.6),(-0.4,1.6),(-2,1.2),(-2.6,0.8),(-1.4,0.4),(-3,0.6),(-0.4,2.2),(-1,1.2),(-0.6,2.4)]
hong_c17 = [(-28,-1.4),(-27,-2.8),(-26.6,-3.4),(-28.2,-1.6)]
hong_c15 = [(-20.4,-3)]
hong_c20 = [(-14.2,-5.8),(-13.2,-5.8),(-13,-5.4),(-22.4,-8)]
hong_c18 = [(-19,-11.8),(-18.4,-12),(-22.4,-13),(-18.8,-12.2)]
hong_c0g = [(-30,-9.4)]
hong_c21 = [(-29.8,-9)]
hong_c8 = [(-37,-10.4),(-36.8,-10.2),(-37.2,-10.2),(-36.4,-10.6),(-36.8,-10.8)]
hong_c5 = [(-6.4,-14.4),(-5,-14),(-4,-14.4),(-4.2,-15),(-3,-15.4),(-3.4,-16),(-2.2,-16),(-2,-16.2),(-2,-15.6),(-1.8,-16.4)]
hong_c0d = [(-6.4,-14.4),(-5,-13.8),(-4,-13.6),(-2.2,-15.4),(-13,-6.2),(-1.6,-15.4)]
hong_c7 = [(-24.4,-13.4),(-25,-16.8),(-24,-18),(-25.2,-18.6),(-25.6,-20),(-24.6,-21.6),(-25.8,-21.6),(-24.4,-23.6),(-25,-24.8),(-26.2,-23.8),(-27.4,-23.4),(-26,-26),(-25.6,-27),(-26.6,-28),(-28.8,-28.8),(-27.8,-29.4),(-27.2,-30),(-29,-30.6),(-28.2,-31),(-30,-31.4),(-30.4,-32.6),(-30.8,-33.4),(-30.2,-33),(-29.6,-32.4),
           (-26,-22.6),(-26.4,-24.8),(-26.6,-26.4),(-27.6,-26.8),(-28.2,-28.2),(-28.8,-30),(-30,-32),(-29.4,-33.4),(-31,-32.8),(-30.6,-33),(-30.2,-33.6),(-30.8,-32.4),(-29.8,-33)]
hong_c22 = [(-10.8,-27.8),(-10.6,-28.2),(-10.6,-28),(-10.4,-27.6),(-10.2,-28.2),(-10.8,-28.6),(-10.2,-28.6)]
hong_c0e = [(-11,-26.6),(-11.2,-27.2)]
hong_c19 = [(-19.4,-52.8),(-19.6,-52.2),(-19,-52.6),(-17.6,-51.2),(-16.8,-52),(-16.4,-54.6),(-16,-53.4),(-19.6,-52.8),(-20,-52.4),(-19.8,-53.2),(-19,-53),(-19.2,-51.8),(-20,-53)]
hong_c0f = [(-17.2,-51.6),(-16.4,-53.4),(-16,-54.2),(33,34),(33.2,33.6),(27,-39.8),(26.8,-39.6),(27.6,-39),(20.8,55.8),(23.4,55.6),(24.2,54.4),(24.8,54),(62.6,14),(63.4,13),(63.6,12.6),(40.2,-4.4),(40,-5),(40.6,-4.6),(41.2,-4),(39.6,-4.6),(47.4,-2)]
hong_c9 = [(20.2,55.6),(20.4,54.6),(20,54),(20.8,53.4),(21,52.6),(20.6,53.2),(21,51.8),(20.6,51.4),(24,54.8),(23.4,55.6),(21,52),(20.4,52.6)]
hong_c10 = [(36.8,17),(38,18),(39,19),(39.8,19),(40.2,17.6),(40.6,17),(40.8,16.4),(40,16.2)]
hong_c11 = [(26.4,-38.8),(28,-40.4),(29,-39),(30,-38.8),(31,-38),(31.8,-38),(32.4,-38),(32.6,-37.6),(32,-38),(32.4,-37.6),(31.4,-37.6)]
hong_c14 = [(61.8,15),(62.2,14.8),(62.6,13.6),(62.4,12),(64.4,12.4),(62,15),(61.4,14.8),(61.8,14.4),(62.4,14.4)]
hong_c16 = [(34.6,35),(34.8,34.8),(33,34.2),(34,35.4),(35,35.4),(34.4,34.4),(35.2,34.6),(33.8,34.8)]
hong_c6 = [(44.2,0),(45.4,-0.4),(46,-0.2),(43.6,-1),(42.8,-1.6),(42,-2.6),(41.6,-3.6),(46.4,-2),(47,-2.8),(47.2,-4),(47.4,-4.8),(48,-3.6),(48.6,-5.6),(48.8,-6.4),(49,-7.4),(47.6,-7.8),(48.2,-8),(49.6,-8.6),(50,-10),(49,-11),(50.6,-11),(49,-11.8),(51.2,-12),(51.6,-13),(52,-13.6),(53,-13),(51.8,-14.6),(53,-15),(52.6,-16),(53.8,-16.8),(54.2,-18),(55,-18.8),(55.4,-20),(56,-21),(56.2,-21.8),
           (48.4,-4),(49,-6),(49.6,-7),(50.4,-9),(50,-8.2),(48.6,-9),(50.6,-12),(52,-12.4),(52.4,-15),(53.4,-14),(54,-17),(54.6,-18.8),(55.8,-20),(55.6,-21),(56.4,-21.4),(47.6,-3),(46.8,-0.8),(44.8,-0.4)]
hong_groups = [(4,hong_c4),(0,hong_c0a),(2,hong_c2),(0,hong_c0b),(3,hong_c3),(1,hong_c1),(13,hong_c13),(0,hong_c0c),(12,hong_c12),(17,hong_c17),(15,hong_c15),(0,hong_c0d),(20,hong_c20),(18,hong_c18),(0,hong_c0g),(21,hong_c21),(8,hong_c8),(5,hong_c5),(7,hong_c7),(0,hong_c0e),(22,hong_c22),(19,hong_c19),(9,hong_c9),(10,hong_c10),(11,hong_c11),(14,hong_c14),(16,hong_c16),(6,hong_c6),(0,hong_c0f)]

# ---------- WHU_Hi_LongKou ----------
long_c4 = [(16.2,59.4),(16,58.6),(15.4,58.4),(15,57.6),(14,56.6),(13,56),(14,55),(12,54.6),(11,54),(10.4,53.6),(11.4,53),(9,52),(8.6,51),(7.6,51),(6.4,50.4),(7.4,49.8),(5.4,50),(3.4,49.4),(2.6,48.4),(1.6,48),(0.4,47.8),(-0.6,47.8),(0.6,46.6),(-0.6,46),(-0.8,44.4),(6,45.4),(-1.4,43.4),(-2.6,43),(-1,42),(-1.8,41),(-2.8,41.4),(-3,40),(-2.4,39),(-5.4,39.4),(-5.4,38.4),(-3.6,38.4),(-4,37.4),(-3,37),(-4,36),(-5.4,35.6),(-2.8,35.4),(-5.4,34.4),(-3.6,34.4),(-1.6,34.4),(-2.8,33.8),(-3.4,33),(-4,32),(-2.6,31.4),(-4.4,30.4),(-2.6,30),(-3.6,29.4),(-6.8,28.8),(-1.6,28.4),(-1,28.8),(0,27.6),(-4,26.6),(-3.4,25),(-4,24),(-2.8,24),(-0.8,23.8),(-3.2,23),(-1.4,22.8),(-5.2,21.4),(-2.4,21.4),(-1.8,22),(2,21.4),(3.2,21.4),(-2.4,20),(-1.6,19),(2,19.4),(3.2,18.4),(-1,18),(1,18),(4.4,17.6),(6,17.6),(0.4,16.4),(-0.4,15.6),(1,15),(2.2,15),(3.6,15),(5.4,14.4),(2.8,13.6),(3.4,12.4),(4.4,12),(6,13.2),(7.6,13.6),(5,11.6),(6.4,11.4),(7.4,11),(8.4,10.4),(4,9.4),(7,10),(7.4,8.6),(8,9.6),(9,9),(7.8,7.6),(8.4,6.6),(9.2,7),(9.6,5.6),(10.6,4),(12.6,6),(13,4.6),(14,3.4),(14.2,2.2),(15,5),(15.8,3),(16,1.6),(17.6,1.2),(15.4,1),(18.4,0.6),(19.6,0.4),(20.8,0.8),(21.4,-0.4),(22,0.2),(22.6,-1),(24,-0.6),(25,-0.2),(26,0),(27,1),(27.6,0.4),(28.4,-0.4),(31,0),(32,-1),(33,-1.8),(32,-2.6),(30.8,-4),(29.6,-5.4),(18.4,-0.6),(18.4,11),(19,10),(20.6,8.6),(21.4,8),(22,7),(23,6),(23.6,5.8),(30,-7),
           (15.8,59),(14.4,57),(13.4,55.4),(12.4,55.6),(10,53),(9.4,53),(8.2,50),(6.8,51),(4.4,49.6),(2,48),(1,47),(-1.8,44),(-2.4,42),(-3.8,38.8),(-4.4,37),(-3.4,36.4),(-4.6,36.4),(-3.6,35.4),(-3.2,32.2),(-3.8,30.8),(-4,27.6),(-3.6,26),(-3.2,24.6),(-2.6,23),(-1.8,21),(-0.4,20),(0,18.8),(1.6,15.8),(3,14.4),(3.8,13),(5,13),(5.2,10.4),(6,10),(6.8,12),(8,8.4),(8.8,8),(9.4,6.4),(10.4,5.4),(11,4.8),(13.8,4),(14.6,2.6),(15.6,2),(16.8,1.6),(17,0.4),(20,-0.2),(22.4,0),(23.4,-0.4),(29,0),(32.6,-1.2),(33,-0.8)]
long_c0a = [(-1.2,38.8),(-3,28.8),(-4.8,26),(-1,21),(0.6,13.2),(5,9.6),(13.6,4.4),(18.2,-0.6),(25.6,3),(30.6,0.4),(31.4,0.4),(32.2,-1.6),(32.4,-3.6),(31.4,-5.6),(32,-5.6),(30,-7.2)]
long_c2 = [(-29.6,47),(-29.4,49.6),(-28.4,49.8),(-28,49),(-28.2,47.6),(-27.4,47.4),(-28.4,46),(-27.6,45),(-29,44.8),(-28,44),(-29,43.6),(-30.4,43),(-29.6,42.8),(-28.6,42.4),(-29,41.4),(-29.6,41),(-29.4,40),(-28.6,40.4),(-28.4,45),(-28.6,47),(-29,40.4)]
long_c0b = [(-31.4,49),(42,32),(41.8,31.4),(42.2,30.8),(43,30.8),(43.6,29.8),(44,29.4),(41.6,31.8),(44.6,28)]
long_c6 = [(32.4,33),(32.6,32),(33.2,31),(33.4,30),(34.6,29.4),(35.4,32),(34,32),(37.2,29),(37,27.6),(38,28.6),(37.4,26.6),(38,25.6),(39,26.4),(39.4,25.2),(40,26.4),(41,26),(42,25.2),(43,25.4),(44,26.2),(44,27),(44.6,28),(44,29.6),(33,31.6),(34,31),(33.8,30),(34.4,30.4),(38,27.4),(39,27.4),(38.6,26),(43,26)]
long_c7 = [(-56.8,14),(-56.2,13),(-56,11.8),(-55,11),(-54,10.4),(-52,10),(-51.6,9),(-51,8),(-50,7.4),(-49,7),(-50,6.2),(-49,5.8),(-48.8,6),(-50.4,12.4),(-49,13.6),(-48,15),(-47,16),(-46,16.6),(-45,16.8),(-44,16.8),(-43,16.4),(-36,15),(-35,15.6),(-34,14.6),(-33,14.4),(-32,13.8),(-31,13),(-30,12),(-29,11),(-28,10),(-27,9),(-26.4,8),(-26,7),(-26,5.6),(-26,4),(-26,2),(-26.2,0),(-26.8,-1.6),(-27,-3),(-27,-4),(-27.8,-4.4),(-27.4,-5.6),(-36,12),(-35,11.6),(-34,10.6),(-33,10),(-32.8,9.4),(-32,3),(-32,2.8),(-30.4,0.6),(-29.6,0.2),(-33.4,-4),(-33.6,-6),(-33,-6.4),(-30,-7),(-30,-8.4),(-30.6,-9.6),(-29,-9.4),(-30,-10),(-31,-11),(-32,-12),(-33,-13),(-32,-12.6),(-34,-14),(-34.4,-15),(-35,-16),(-36,-17),(-37,-18),(-37,-19),(-37.8,-19.4),(-36,-20.4),(-36.4,-23),(-36.4,-24),(-36,-25),(-39,-24),(-40,-25),(-40.4,-26),(-40,-27),(-40.4,-28),(-40,-29),(-39,-28),(-38,-27),(-38,-29),(-35,-25),(-34.4,-26),(-34.6,-27),(-37,-26),(-39.6,-31),(-39,-32),(-38,-33),(-37,-34),(-37,-32),(-36,-35),(-35,-36),(-34,-37),(-34,-38),(-33,-38.6),(-32,-39),(-31.6,-40),(-30.4,-41),(-29,-42),(-29,-43),(-28,-43),(-27,-44),(-26,-44.6),(-25.4,-45),
           (17.6,-33.8),(18,-34.4),(19,-35),(20,-36),(20.4,-37),(21,-38),(22,-39),(23,-40),(23.4,-41),(24,-41.6),(24.2,-42.4),(18.6,-34.6),(19.6,-35.6),(21.4,-38.4),(22.4,-39.4),(23.6,-41.4),
           (-45.6,16.8),(-44.6,16.4),(-47.4,15.4),(-35.6,15.6),(-33.4,14),(-31.6,13.2),(-30.4,12.8),(-29.4,11.4),(-28.6,10.6),(-27.6,9.4),(-26.8,8.4),(-25.8,6),(-26.2,3),(-26,1),(-26.6,-1),(-27.6,-3.4),(-28,-5),(-30.4,-10),(-31,-10.4),(-31.6,-11.4),(-32.4,-13),(-33.4,-13.6),(-34.6,-15.6),(-35.4,-16.6),(-36.4,-17.4),(-38,-19),(-36.6,-18.4),(-38.6,-25),(-39.6,-24.4),(-39,-26),(-40.6,-27),(-39.4,-29),(-38.8,-30),(-38,-31),(-36.4,-34.4),(-35.4,-36.4),(-34.4,-37.4),(-33,-37.6),(-30,-41.4),(-29.6,-42.4),(-27.4,-43.6),(-26.4,-44.4),(-49.6,7),(-50.4,7.8)]
long_c0c = [(-56.8,13.6),(-56,14.8),(-53.6,14.8),(-53,15.6),(-52.4,15.8),(-49.2,13.6)]
long_c1 = [(-5.4,-67),(-5,-66),(-5.6,-65),(-5,-64),(-6.6,-62),(-5.6,-62.4),(-4.6,-62),(-5.6,-60),(-4.6,-59.6),(-4.4,-58),(-3.8,-56),(-3,-55),(-4.4,-55),(-2.4,-54),(-4,-53),(-2.6,-52),(-4.4,-51),(-3,-51),(-4.4,-49.6),(-1,-49.6),(-2.6,-49),(-3,-47),(-3,-45.6),(-3.8,-44.6),(-2,-44),(-1.2,-44.6),(-3,-43),(-3.4,-42),(-1.6,-41),(-2.8,-40),(-0.8,-40),(-2,-39),(-3,-38),(-1.4,-38),(-3,-36),(-1.8,-36),(-2.4,-34),(-3,-32.6),(-4,-33),(-1.6,-33),(-2.4,-31),(-1.8,-30),(-3,-28.6),(-4,-28),(-1.8,-28),(-3,-27),(-4,-26),(-2,-26),(-3.6,-24.6),(-2.4,-24.6),(0.2,-23),(-1.6,-22),(-2,-21),(-0.4,-21),(-1.2,-19.6),(0,-19),(-0.6,-18),(1,-17.4),(0.4,-16),(-1,-15),(-0.4,-14),(0.2,-13.4),(0.4,-12),(1.2,-12),(2,-11),(2.8,-11),(3.6,-11.4),(4.6,-12),
           (-5.2,-65.6),(-5,-63),(-5.4,-61),(-5,-61.2),(-4.2,-57),(-4,-54),(-3.4,-53),(-3.4,-50),(-3.6,-48),(-2.6,-46),(-3.4,-46),(-2.6,-44),(-2.4,-42),(-2.4,-40),(-2,-37),(-2.4,-36),(-2.2,-32),(-3,-30),(-2.6,-29),(-3.2,-26),(-2.4,-23),(-2,-23.4),(-1.2,-20.8),(-0.8,-17),(-0.8,-16),(0,-14.6),(0.6,-13),(1.6,-11.2)]
long_c0d = [(-0.2,-14.4),(0.6,-12),(5,-12.6),(5.8,-12.4),(6,-13.4),(5.4,-15.4),(6,-15.6),(6,-17),(6.2,-17.8)]
long_c3 = [(68.4,-20.4),(68,-20),(68.8,-20),(68.2,-21),(68.8,-21),(68.5,-19.6),(68,-21),(68.6,-21.4),(68.2,-19.8),(69,-20.6),(67.8,-20.6)]
long_c5 = [(40,-41),(40,-42),(40.4,-41.4),(39.8,-40),(40.2,-42),(39.8,-41.6),(40.6,-42),(40.6,-41)]
long_c0e = [(40.8,-39.6)]
long_c9 = [(41.6,-20.4),(42,-20.2),(42.8,-20.6),(43.8,-21),(45,-20.8),(45,-20),(44.6,-21.4),(44.6,-17),(44.8,-15.8),(46.8,-16),(42.4,-20),(43.2,-21),(44.2,-20.4),(45,-17.4)]
long_c0f = [(45,-19),(45.8,-18.4),(46,-16.8),(45.6,-13),(45.6,-12),(44.4,-9.8),(45,-10),(45.6,-11),(47,-8.8),(47.6,-12),(48,-10.6),(48.8,-9.4),(50.4,-7),(51,-6.4),(52,-6.4),(53,-6),(53.6,-4.6),(55,-4.4),(56,-5),(57,-3)]
long_c8 = [(53,1),(53.6,1),(54.4,0.4),(55,0),(56,-0.6),(57,-1),(57.6,-1.6),(57.8,-2.2),(57,-3),(56.4,-4),(55.4,-2),(55,-4),(50,-7.6),(51.8,-5.2),(47.6,-10.4),(53,0.4),(53.6,0.4),(54.6,-0.4),(55.6,-0.4),(56.4,-1.4)]
long_groups = [(4,long_c4),(0,long_c0a),(2,long_c2),(6,long_c6),(0,long_c0b),(7,long_c7),(0,long_c0c),(1,long_c1),(0,long_c0d),(3,long_c3),(5,long_c5),(0,long_c0e),(9,long_c9),(8,long_c8),(0,long_c0f)]

titles = ["t-SNE scatter plot"] * 4
captions = ["(hrl)", "(WHU_Hi_HanChuan)", "(WHU_Hi_HongHu)", "(WHU_Hi_LongKou)"]
caption_cx = [421, 1972, 447, 1953]
caption_cy = [1017, 1017, 2221, 2221]
groups = [hrl_groups, han_groups, hong_groups, long_groups]
x_ranges = [(-63.4, 65.55), (-65.4, 68.2), (-64.1, 70.8), (-63, 75.3)]
y_ranges = [(-70.6, 74.6), (-66.1, 65.5), (-59.8, 63.3), (-72.9, 65.8)]
cmax = [14, 16, 22, 9]
cdtick = [2, 2, 2.5, 1]
cfmt = ["d", "d", ".1f", "d"]
tick_vals = [-60, -40, -20, 0, 20, 40, 60]

AX_L = [69.4, 1531, 69.4, 1531]
AX_R = [913.6, 2375.4, 913.6, 2375.4]
AX_T = [40.8, 40.8, 1173.6, 1173.6]
AX_B = [879.5, 879.5, 2012, 2012]
CB_L = [965, 2428, 965, 2428]

# matplotlib's jet
jet = [[0, "rgb(0,0,128)"], [0.11, "rgb(0,0,255)"], [0.125, "rgb(0,0,255)"], [0.34, "rgb(0,219,255)"],
       [0.35, "rgb(0,230,247)"], [0.375, "rgb(21,255,226)"], [0.64, "rgb(238,255,8)"], [0.65, "rgb(247,246,0)"],
       [0.66, "rgb(255,236,0)"], [0.89, "rgb(255,19,0)"], [0.91, "rgb(232,0,0)"], [1, "rgb(128,0,0)"]]

TICK = dict(family="DejaVu Sans", size=17.5, color="black")
fig = go.Figure()
layout = {}
annos = []
for i in range(4):
    n = "" if i == 0 else str(i + 1)
    xs, ys, cs = [], [], []
    for cls, pts in groups[i]:
        for x, y in pts:
            xs.append(x); ys.append(y); cs.append(cls)
    fig.add_trace(go.Scatter(
        x=xs, y=ys, mode="markers", xaxis="x" + n, yaxis="y" + n, showlegend=False, hoverinfo="skip",
        marker=dict(size=9.7, color=cs, cmin=0, cmax=cmax[i], colorscale=jet, line=dict(width=0),
                    colorbar=dict(x=CB_L[i] / W, xanchor="left", xpad=0, ypad=0, thickness=43, thicknessmode="pixels",
                                  y=1 - AX_T[i] / H, yanchor="top", len=(AX_B[i] - AX_T[i]) / H, lenmode="fraction",
                                  tick0=0, dtick=cdtick[i], tickformat=cfmt[i], ticks="outside", ticklen=6, tickwidth=1,
                                  tickcolor="black", tickfont=TICK, outlinecolor="black", outlinewidth=1, bgcolor="white"))))
    common = dict(showline=True, linecolor="black", linewidth=1.4, mirror=True, showgrid=False, zeroline=False,
                  ticks="outside", ticklen=6, tickwidth=1.2, tickcolor="black", tickfont=TICK,
                  tickmode="array", tickvals=tick_vals, ticktext=[str(v).replace("-", "\u2212") for v in tick_vals])
    layout["xaxis" + n] = dict(domain=[AX_L[i] / W, AX_R[i] / W], range=list(x_ranges[i]), anchor="y" + n, **common)
    layout["yaxis" + n] = dict(domain=[1 - AX_B[i] / H, 1 - AX_T[i] / H], range=list(y_ranges[i]), anchor="x" + n, **common)
    annos.append(dict(text=titles[i], xref="paper", yref="paper", x=(AX_L[i] + AX_R[i]) / 2 / W, y=1 - (AX_T[i] - 20) / H,
                      xanchor="center", yanchor="middle", showarrow=False, font=dict(family="DejaVu Sans", size=23, color="black")))
    annos.append(dict(text=captions[i], xref="paper", yref="paper", x=caption_cx[i] / W, y=1 - caption_cy[i] / H,
                      xanchor="center", yanchor="middle", showarrow=False, font=dict(family="Liberation Serif", size=87, color="black")))

fig.update_layout(width=W, height=H, margin=dict(l=0, r=0, t=0, b=0), paper_bgcolor="white", plot_bgcolor="white",
                  annotations=annos, **layout)
fig.write_html("out.html", config={"displayModeBar": False}, post_script="document.body.style.margin='0';")
